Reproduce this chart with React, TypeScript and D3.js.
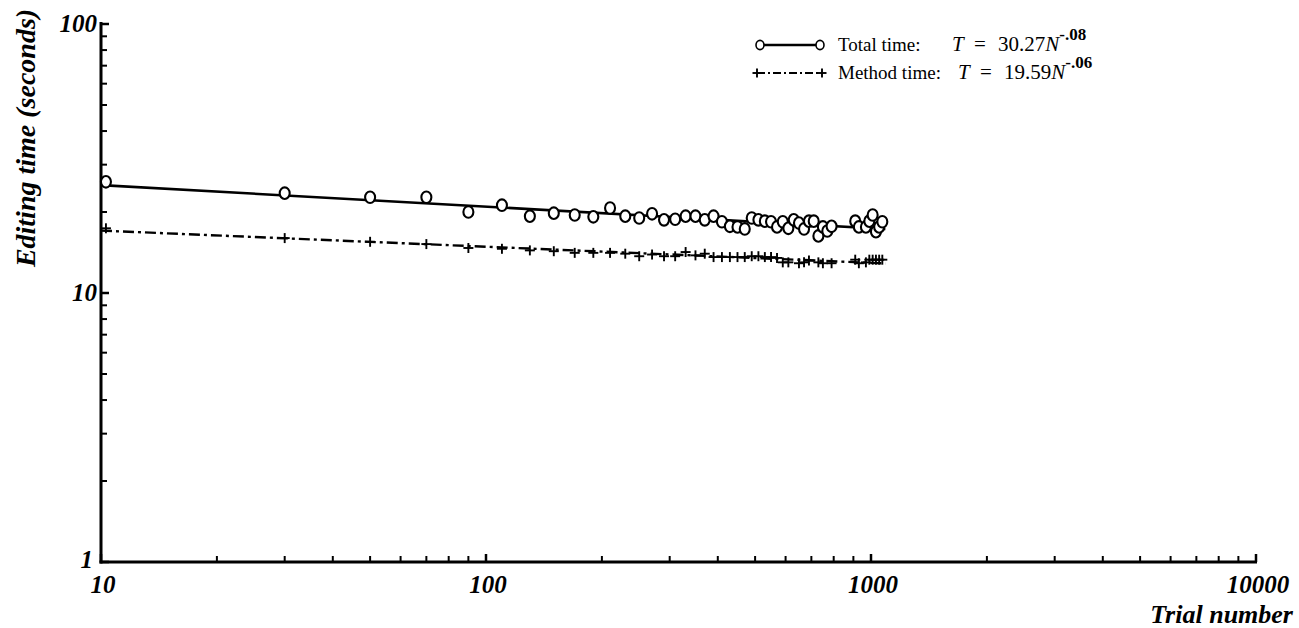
import React from "react";
import * as d3 from "d3";

// Trial numbers and mean editing times (seconds)
const totalTrials = [10.3, 30, 50, 70, 90, 110, 130, 150, 170, 190, 210, 230, 250, 270, 290, 310, 330, 350, 370, 390, 410, 430, 450, 470, 490, 510, 530, 550, 570, 590, 610, 630, 650, 670, 690, 710, 730, 750, 770, 790, 910, 930, 970, 990, 1010, 1030, 1050, 1070];
const totalTimes = [25.9, 23.5, 22.7, 22.7, 20.0, 21.2, 19.3, 19.8, 19.5, 19.2, 20.7, 19.3, 19.0, 19.7, 18.7, 18.8, 19.3, 19.3, 18.7, 19.3, 18.4, 17.7, 17.6, 17.3, 19.0, 18.7, 18.5, 18.4, 17.6, 18.4, 17.4, 18.7, 18.2, 17.3, 18.5, 18.5, 16.3, 17.6, 17.0, 17.7, 18.5, 17.6, 17.6, 18.5, 19.5, 16.9, 17.6, 18.4];

const methodTrials = [10.3, 30, 50, 70, 90, 110, 130, 150, 170, 190, 210, 230, 250, 270, 290, 310, 330, 350, 370, 390, 410, 430, 450, 470, 490, 510, 530, 550, 570, 590, 610, 650, 670, 690, 730, 750, 790, 910, 930, 970, 990, 1010, 1030, 1050, 1070];
const methodTimes = [17.4, 16.0, 15.5, 15.2, 14.7, 14.6, 14.4, 14.3, 14.1, 14.1, 14.1, 14.0, 13.7, 13.9, 13.7, 13.7, 14.2, 13.8, 14.0, 13.6, 13.6, 13.6, 13.6, 13.6, 13.7, 13.7, 13.6, 13.6, 13.5, 13.0, 13.0, 12.9, 13.0, 13.2, 13.0, 12.9, 12.9, 13.3, 12.9, 13.0, 13.3, 13.3, 13.3, 13.3, 13.3];

// Power-law fits T = a * N^b
const totalFit = { a: 30.27, b: -0.08, label: "30.27", exp: "-.08" };
const methodFit = { a: 19.59, b: -0.06, label: "19.59", exp: "-.06" };
const fitRange = [10, 1090];

const xTickValues = [10, 100, 1000, 10000];
const yTickValues = [1, 10, 100];

const W = 1299;
const H = 628;

const serif = "'Liberation Serif', 'Times New Roman', serif";

export default function App() {
  const x = d3.scaleLog().domain([10, 10000]).range([101, 1256]);
  const y = d3.scaleLog().domain([1, 100]).range([562, 24]);

  const fitPath = (f: { a: number; b: number }) =>
    d3
      .line<number>()
      .x((n) => x(n))
      .y((n) => y(f.a * Math.pow(n, f.b)))(fitRange) || "";

  // minor ticks for each decade
  const xMinor: number[] = [];
  for (let d = 10; d < 10000; d *= 10) for (let k = 2; k <= 9; k++) xMinor.push(d * k);
  const yMinor: number[] = [];
  for (let d = 1; d < 100; d *= 10) for (let k = 2; k <= 9; k++) yMinor.push(d * k);

  const plus = (cx: number, cy: number, key: string | number, s = 5) => (
    <g key={key} stroke="#000" strokeWidth={1.9}>
      <line x1={cx - s} x2={cx + s} y1={cy} y2={cy} />
      <line x1={cx} x2={cx} y1={cy - s} y2={cy + s} />
    </g>
  );

  const dashDot = "11 4 3 4";
  const left = x(10);

  // legend formula "T = a N^b"
  const formula = (
    fit: { label: string; exp: string },
    x0: number,
    baseline: number
  ) => (
    <g fontSize={21}>
      <text x={x0} y={baseline} fontStyle="italic">
        T
      </text>
      <text x={x0 + 22} y={baseline}>
        =
      </text>
      <text x={x0 + 46} y={baseline}>
        {fit.label}
        <tspan fontStyle="italic">N</tspan>
        <tspan dy={-11} fontSize={17} fontWeight="bold">
          {fit.exp}
        </tspan>
      </text>
    </g>
  );

  return (
    <svg
      width={W}
      height={H}
      style={{ position: "absolute", left: 0, top: 0, background: "#fff" }}
      fontFamily={serif}
    >
      <rect width={W} height={H} fill="#fff" />

      {/* axes */}
      <g stroke="#000" fill="none">
        <line x1={left} x2={left} y1={22} y2={563.5} strokeWidth={3} />
        <line x1={left - 1.5} x2={1257} y1={562} y2={562} strokeWidth={3} />
        {yTickValues.map((v) => (
          <line key={"ym" + v} x1={left} x2={left + 8} y1={y(v)} y2={y(v)} strokeWidth={2.5} />
        ))}
        {yMinor.map((v) => (
          <line key={"yn" + v} x1={left} x2={left + 6} y1={y(v)} y2={y(v)} strokeWidth={2} />
        ))}
        {xTickValues.map((v) => (
          <line key={"xm" + v} x1={x(v)} x2={x(v)} y1={562} y2={554} strokeWidth={2.5} />
        ))}
        {xMinor.map((v) => (
          <line key={"xn" + v} x1={x(v)} x2={x(v)} y1={562} y2={556} strokeWidth={2} />
        ))}
      </g>

      {/* tick labels */}
      <g fontStyle="italic" fontWeight="bold" fontSize={25} fill="#000">
        {yTickValues.map((v) => (
          <text
            key={"yl" + v}
            x={v === 1 ? left - 8 : left - 4}
            y={y(v) + (v === 1 ? 6 : 8)}
            textAnchor="end"
          >
            {v}
          </text>
        ))}
        {xTickValues.map((v) => (
          <text key={"xl" + v} x={x(v) + 2} y={593} textAnchor="middle">
            {v}
          </text>
        ))}
        <text x={1293} y={623} textAnchor="end" fontSize={26}>
          Trial number
        </text>
        <text
          transform="translate(35,138) rotate(-90)"
          textAnchor="middle"
          fontSize={28}
        >
          Editing time (seconds)
        </text>
      </g>

      {/* fitted lines */}
      <path d={fitPath(totalFit)} stroke="#000" strokeWidth={2.6} fill="none" />
      <path
        d={fitPath(methodFit)}
        stroke="#000"
        strokeWidth={2.4}
        fill="none"
        strokeDasharray={dashDot}
      />

      {/* observed points */}
      <g fill="#fff" stroke="#000" strokeWidth={2.1}>
        {totalTrials.map((n, i) => (
          <ellipse key={"t" + i} cx={x(n)} cy={y(totalTimes[i])} rx={5} ry={5.8} />
        ))}
      </g>
      <g>{methodTrials.map((n, i) => plus(x(n), y(methodTimes[i]), "m" + i))}</g>

      {/* legend */}
      <g fill="#000">
        <line x1={760} x2={820} y1={45} y2={45} stroke="#000" strokeWidth={2.4} />
        <ellipse cx={760} cy={45} rx={4} ry={4.6} fill="#fff" stroke="#000" strokeWidth={1.6} />
        <ellipse cx={820} cy={45} rx={4} ry={4.6} fill="#fff" stroke="#000" strokeWidth={1.6} />
        <text x={838} y={51} fontSize={19}>
          Total time:
        </text>
        {formula(totalFit, 952, 51)}

        <line
          x1={757}
          x2={822}
          y1={73}
          y2={73}
          stroke="#000"
          strokeWidth={2}
          strokeDasharray="8 3 2 3"
        />
        {plus(757, 73, "lp1", 4.5)}
        {plus(822, 73, "lp2", 4.5)}
        <text x={838} y={79} fontSize={19}>
          Method time:
        </text>
        {formula(methodFit, 958, 79)}
      </g>
    </svg>
  );
}
